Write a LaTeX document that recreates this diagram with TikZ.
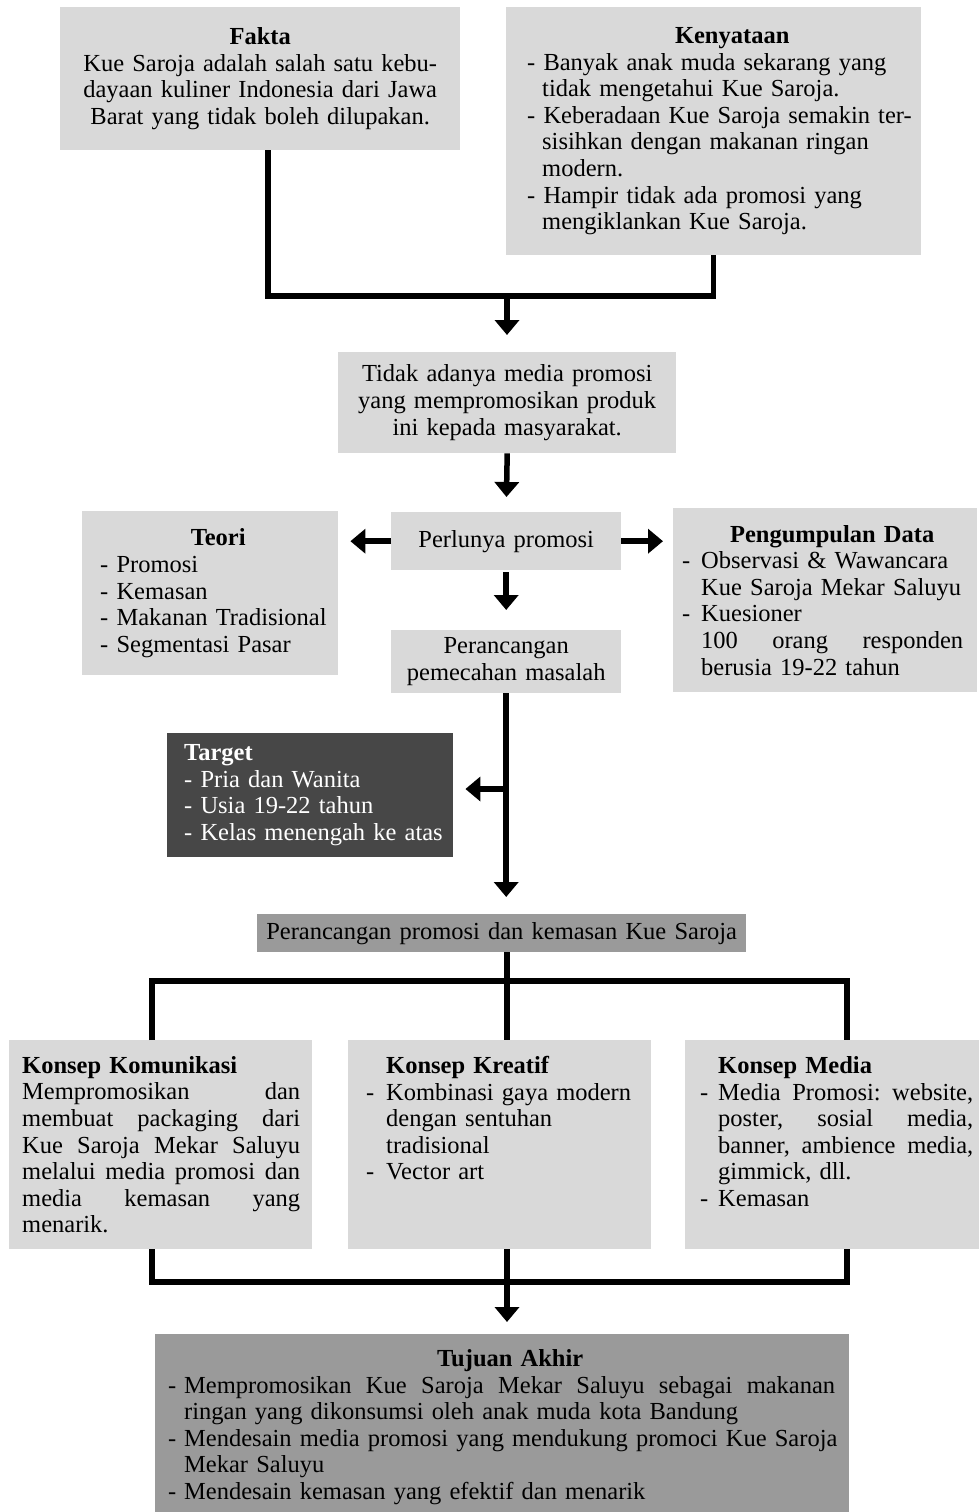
\documentclass[tikz,border=0pt]{standalone}
\usepackage{fontspec}
\setmainfont{Liberation Serif}
\usepackage{xcolor}
\definecolor{boxgray}{HTML}{D9D9D9}
\definecolor{midgray}{HTML}{9A9A9A}
\definecolor{deepgray}{HTML}{474747}
\usetikzlibrary{arrows.meta}
\frenchspacing
\newcommand{\bodyfont}{\fontsize{24.5}{26.6}\selectfont}
\newcommand{\bul}[1]{\makebox[#1][l]{-}}
\newcommand{\hangin}[1]{\hspace*{#1}}
\newcommand{\jline}[2]{\leavevmode\hbox to #1{#2}}
\newcommand{\js}{\ \hfil}
\tikzset{
  box/.style ={rectangle, fill=boxgray, anchor=north west, inner ysep=0pt, font=\bodyfont, text=black},
  boxm/.style={box, fill=midgray},
  boxd/.style={box, fill=deepgray, text=white},
  link/.style ={line width=5.5pt, color=black},
  arr/.style  ={link, -{Triangle[length=15pt, width=24pt]}},
}

\begin{document}
\begin{tikzpicture}[x=1pt, y=-1pt]
  \useasboundingbox (0,0) rectangle (979,1512);
  % top row
  \node[box, minimum width=400pt, minimum height=143pt, text width=360pt, inner xsep=20pt, align=center] (fakta) at (60,7)
    {\textbf{Fakta}\\Kue Saroja adalah salah satu kebu-\\dayaan kuliner Indonesia dari Jawa\\Barat yang tidak boleh dilupakan.};
  \node[box, minimum width=415pt, minimum height=248pt, text width=373pt, inner xsep=21pt, align=left] (nyata) at (506,7)
    {\makebox[373pt]{\hspace{37pt}\textbf{Kenyataan}}\\
     - Banyak anak muda sekarang yang\\
     \hangin{15pt}tidak mengetahui Kue Saroja.\\
     \mbox{- Keberadaan Kue Saroja semakin ter-}\\
     \hangin{15pt}sisihkan dengan makanan ringan\\
     \hangin{15pt}modern.\\
     - Hampir tidak ada promosi yang\\
     \hangin{15pt}mengiklankan Kue Saroja.};
  % middle
  \node[box, minimum width=338pt, minimum height=101pt, text width=318pt, inner xsep=10pt, align=center] (tidak) at (338,352)
    {Tidak adanya media promosi\\yang mempromosikan produk\\ini kepada masyarakat.};
  \node[box, minimum width=230pt, minimum height=58pt, text width=210pt, inner xsep=10pt, align=center] (perlu) at (391,512)
    {Perlunya promosi};
  \node[box, minimum width=256pt, minimum height=164pt, text width=220pt, inner xsep=18pt, align=left] (teori) at (82,511)
    {\makebox[220pt]{\hspace{16pt}\textbf{Teori}}\\
     - Promosi\\- Kemasan\\\mbox{- Makanan Tradisional}\\- Segmentasi Pasar};
  \node[box, minimum width=304pt, minimum height=184pt, text width=286pt, inner xsep=9pt, align=left] (data) at (673,508)
    {\makebox[286pt]{\hspace{14pt}\textbf{Pengumpulan Data}}\\
     \bul{19pt}Observasi \& Wawancara\\
     \hangin{19pt}Kue Saroja Mekar Saluyu\\
     \bul{19pt}Kuesioner\\
     \hangin{19pt}\jline{262pt}{100\js orang\js responden}\\
     \hangin{19pt}berusia 19-22 tahun};
  \node[box, minimum width=230pt, minimum height=63pt, text width=210pt, inner xsep=10pt, align=center] (pecah) at (391,630)
    {Perancangan\\pemecahan masalah};
  \node[boxd, minimum width=286pt, minimum height=124pt, text width=252pt, inner xsep=17pt, align=left] (target) at (167,733)
    {\textbf{Target}\\- Pria dan Wanita\\- Usia 19-22 tahun\\\mbox{- Kelas menengah ke atas}};
  \node[boxm, minimum width=489pt, minimum height=38pt, text width=479pt, inner xsep=5pt, align=center] (rancang) at (257,914)
    {Perancangan promosi dan kemasan Kue Saroja};
  % konsep row
  \node[box, minimum width=303pt, minimum height=209pt, text width=277pt, inner xsep=13pt, align=left] (komun) at (9,1040)
    {\textbf{Konsep Komunikasi}\\
     \jline{278pt}{Mempromosikan\js dan}\\
     \jline{278pt}{membuat\js packaging\js dari}\\
     \jline{278pt}{Kue\js Saroja\js Mekar\js Saluyu}\\
     \jline{278pt}{melalui\js media\js promosi\js dan}\\
     \jline{278pt}{media\js kemasan\js yang}\\
     menarik.};
  \node[box, minimum width=303pt, minimum height=209pt, text width=267pt, inner xsep=18pt, align=left] (kreatif) at (348,1040)
    {\hangin{20pt}\textbf{Konsep Kreatif}\\
     \bul{20pt}Kombinasi gaya modern\\
     \hangin{20pt}dengan sentuhan\\
     \hangin{20pt}tradisional\\
     \bul{20pt}Vector art\\~\\~};
  \node[box, minimum width=294pt, minimum height=209pt, text width=273pt, inner xsep=15pt, align=left] (media) at (685,1040)
    {\hangin{18pt}\textbf{Konsep Media}\\
     \bul{18pt}\jline{255pt}{Media\js Promosi:\js website,}\\
     \hangin{18pt}\jline{255pt}{poster,\js sosial\js media,}\\
     \hangin{18pt}\jline{255pt}{banner,\js ambience\js media,}\\
     \hangin{18pt}gimmick, dll.\\
     \bul{18pt}Kemasan\\~};
  % bottom
  \node[boxm, minimum width=694pt, minimum height=186pt, text width=668pt, inner xsep=13pt, align=left] (tujuan) at (155,1334)
    {\makebox[668pt]{\hspace{16pt}\textbf{Tujuan Akhir}}\\
     \bul{16pt}\jline{651pt}{Mempromosikan\js Kue\js Saroja\js Mekar\js Saluyu\js sebagai\js makanan}\\
     \hangin{16pt}ringan yang dikonsumsi oleh anak muda kota Bandung\\
     \bul{16pt}\jline{651pt}{Mendesain\js media\js promosi\js yang\js mendukung\js promoci\js Kue\js Saroja}\\
     \hangin{16pt}Mekar Saluyu\\
     \bul{16pt}Mendesain kemasan yang efektif dan menarik};
  % junctions
  \coordinate (j1) at (507,296);
  \coordinate (tj) at (507,789);
  \coordinate (b1) at (152,981);
  \coordinate (b2) at (507,981);
  \coordinate (b3) at (847,981);
  \coordinate (m1) at (152,1282);
  \coordinate (m2) at (507,1282);
  \coordinate (m3) at (847,1282);
  % connectors
  \draw[link] ([xshift=8pt]fakta.south) |- (j1) -| (nyata.south);
  \draw[arr, shorten >=17pt] (j1) -- (j1 |- tidak.north);
  \draw[arr, shorten >=15pt] (tidak.south) -- (perlu.north);
  \draw[arr, shorten >=12pt] (perlu.west) -- (perlu.west -| teori.east);
  \draw[arr, shorten >=10pt] (perlu.east) -- (perlu.east -| data.west);
  \draw[arr, shorten >=20pt, shorten <=2pt] (perlu.south) -- (pecah.north);
  \draw[arr, shorten >=17pt] (pecah.south) -- (pecah.south |- rancang.north);
  \draw[arr, shorten >=12pt] (tj) -- (tj -| target.east);
  \draw[link] (b2 |- rancang.south) -- (b2 |- kreatif.north);
  \draw[link] (b1 |- komun.north) -- (b1) -- (b3) -- (b3 |- media.north);
  \draw[link] (m1 |- komun.south) -- (m1) -- (m3) -- (m3 |- media.south);
  \draw[link] (m2 |- kreatif.south) -- (m2);
  \draw[arr, shorten >=12pt] (m2) -- (m2 |- tujuan.north);
\end{tikzpicture}
\end{document}
